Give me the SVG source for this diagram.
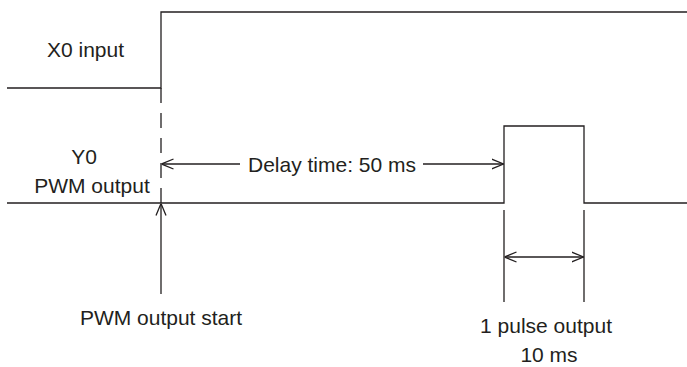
<svg xmlns="http://www.w3.org/2000/svg" width="687" height="367" viewBox="0 0 687 367">
<style>
.ln{fill:none;stroke:#231f20;stroke-width:1.3}
.ah{fill:none;stroke:#231f20;stroke-width:1.3}
text{font-family:"Liberation Sans",Arial,sans-serif;font-size:21px;fill:#231f20}
</style>
<defs>
<marker id="arr" viewBox="0 0 12 12" refX="12" refY="6" markerWidth="12" markerHeight="12" markerUnits="userSpaceOnUse" orient="auto-start-reverse">
<path d="M0,1 L12,6 L0,11" class="ah"/>
</marker>
</defs>
<rect width="687" height="367" fill="#fff"/>
<g id="x0-signal">
<polyline class="ln" points="7,88 161,88 161,12 687,12"/>
<text x="47" y="57">X0 input</text>
</g>
<g id="y0-signal">
<polyline class="ln" points="7,203 504,203 504,126 584,126 584,203 687,203"/>
<text x="84" y="164" text-anchor="middle">Y0</text>
<text x="92" y="193" text-anchor="middle">PWM output</text>
</g>
<g id="connectors">
<line class="ln" x1="161" y1="88" x2="161" y2="203" stroke-dasharray="15 10"/>
<line class="ln" x1="240" y1="164" x2="161.5" y2="164" marker-end="url(#arr)"/>
<line class="ln" x1="423" y1="164" x2="503.5" y2="164" marker-end="url(#arr)"/>
<line class="ln" x1="161" y1="294" x2="161" y2="203.5" marker-end="url(#arr)"/>
<line class="ln" x1="504" y1="210" x2="504" y2="302"/>
<line class="ln" x1="584" y1="210" x2="584" y2="302"/>
<line class="ln" x1="504.5" y1="257" x2="583.5" y2="257" marker-start="url(#arr)" marker-end="url(#arr)"/>
</g>
<g id="labels">
<text x="332" y="172" text-anchor="middle">Delay time: 50 ms</text>
<text x="161" y="325" text-anchor="middle">PWM output start</text>
<text x="546" y="333" text-anchor="middle">1 pulse output</text>
<text x="549" y="362" text-anchor="middle">10 ms</text>
</g>
</svg>
